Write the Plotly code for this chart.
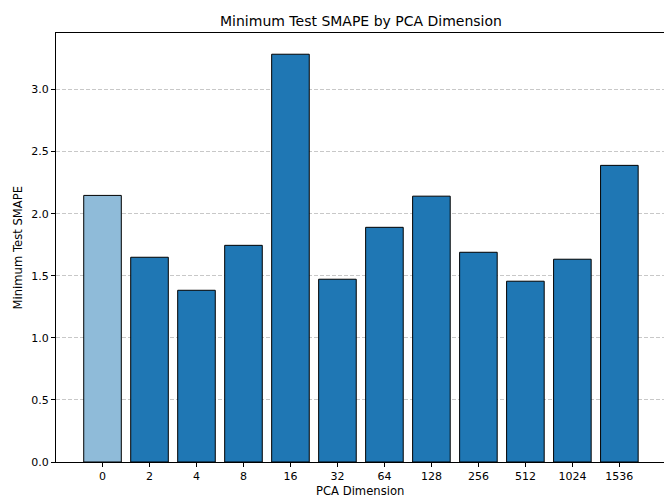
import plotly.graph_objects as go

categories = ["0", "2", "4", "8", "16", "32", "64", "128", "256", "512", "1024", "1536"]
min_smape = [2.147, 1.649, 1.383, 1.745, 3.284, 1.472, 1.890, 2.141, 1.689, 1.456, 1.633, 2.389]
bar_colors = ["#8fbbd9"] + ["#1f77b4"] * 11
y_ticks = [0.0, 0.5, 1.0, 1.5, 2.0, 2.5, 3.0]

font_family = "DejaVu Sans"

fig = go.Figure(
    go.Bar(
        x=categories,
        y=min_smape,
        width=0.8,
        marker=dict(color=bar_colors, line=dict(color="black", width=1)),
        hoverinfo="x+y",
    )
)

fig.update_layout(
    width=664,
    height=497,
    margin=dict(l=56, r=0, t=33, b=35, autoexpand=False),
    plot_bgcolor="white",
    paper_bgcolor="white",
    showlegend=False,
    font=dict(family=font_family, size=11, color="black"),
    title=dict(
        text="Minimum Test SMAPE by PCA Dimension",
        x=361 / 664,
        xanchor="center",
        xref="container",
        y=1 - 21 / 497,
        yanchor="middle",
        yref="container",
        font=dict(family=font_family, size=14, color="black"),
    ),
    annotations=[
        dict(
            text="PCA Dimension",
            xref="paper", yref="paper",
            x=0.5, y=-(491 - 462) / (462 - 33),
            xanchor="center", yanchor="middle",
            showarrow=False,
            font=dict(size=11.6),
        ),
        dict(
            text="Minimum Test SMAPE",
            xref="paper", yref="paper",
            x=-(56 - 17) / 608, y=0.5,
            xanchor="center", yanchor="middle",
            textangle=-90,
            showarrow=False,
            font=dict(size=11.6),
        ),
    ],
)

fig.update_xaxes(
    type="category",
    range=[-0.99, 11.95],
    automargin=False,
    showline=True,
    linecolor="black",
    linewidth=1,
    mirror=True,
    ticks="outside",
    ticklen=4,
    tickwidth=1,
    tickcolor="black",
    showgrid=False,
    tickfont=dict(size=11),
)

fig.update_yaxes(
    range=[0, 3.455],
    automargin=False,
    tickvals=y_ticks,
    tickformat=".1f",
    showline=True,
    linecolor="black",
    linewidth=1,
    ticks="outside",
    ticklen=4,
    tickwidth=1,
    tickcolor="black",
    showgrid=True,
    gridcolor="rgba(176,176,176,0.7)",
    griddash="4px,2px",
    gridwidth=0.8,
    zeroline=False,
    layer="above traces",
    tickfont=dict(size=11),
)

fig.write_html(
    "out.html",
    config={"displayModeBar": False},
    post_script="document.body.style.margin='0';document.body.style.overflow='hidden';",
)
